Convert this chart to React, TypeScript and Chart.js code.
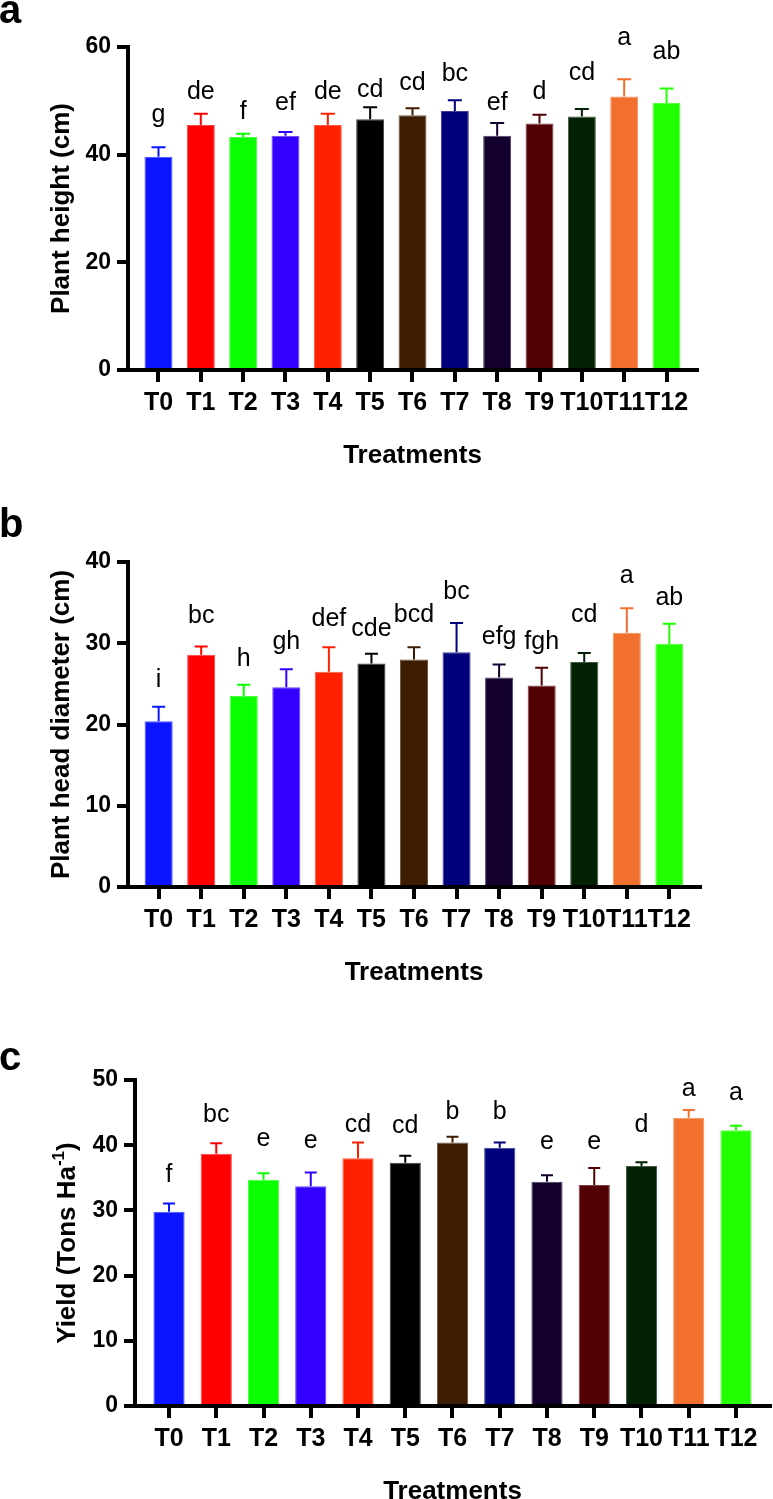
import React, { useEffect, useRef } from 'react';
import { Chart, registerables } from 'chart.js';

Chart.register(...registerables);

const FONT = "'Liberation Sans', Arial, Helvetica, sans-serif";

const treatments = ['T0', 'T1', 'T2', 'T3', 'T4', 'T5', 'T6', 'T7', 'T8', 'T9', 'T10', 'T11', 'T12'];
const barColors = ['#0a14ff', '#ff0000', '#0aff00', '#3300ff', '#ff2000', '#000000', '#3d1c02', '#00007a', '#13002e', '#520004', '#022002', '#f2702e', '#22ff00'];

// Panel a: plant height (cm)
const heightMeans = [39.6, 45.5, 43.3, 43.5, 45.5, 46.6, 47.3, 48.1, 43.5, 45.8, 47.1, 50.8, 49.6];
const heightErrors = [1.8, 2.1, 0.6, 0.7, 2.1, 2.2, 1.3, 2.0, 2.4, 1.6, 1.4, 3.2, 2.7];
const heightLetters = ['g', 'de', 'f', 'ef', 'de', 'cd', 'cd', 'bc', 'ef', 'd', 'cd', 'a', 'ab'];
const heightLetterLevels = [46.1, 50.4, 46.7, 48.3, 50.4, 50.8, 52.1, 53.6, 48.3, 50.4, 53.9, 60.4, 57.7];

// Panel b: plant head diameter (cm)
const diameterMeans = [20.4, 28.6, 23.5, 24.6, 26.5, 27.5, 28.0, 28.9, 25.8, 24.8, 27.7, 31.3, 29.9];
const diameterErrors = [1.8, 1.0, 1.4, 2.2, 3.0, 1.2, 1.5, 3.6, 1.6, 2.2, 1.1, 3.0, 2.5];
const diameterLetters = ['i', 'bc', 'h', 'gh', 'def', 'cde', 'bcd', 'bc', 'efg', 'fgh', 'cd', 'a', 'ab'];
const diameterLetterLevels = [24.6, 32.5, 27.2, 29.3, 32.1, 30.9, 32.6, 35.4, 29.9, 29.3, 32.6, 37.4, 34.7];

// Panel c: yield (Tons Ha-1)
const yieldMeans = [29.8, 38.7, 34.7, 33.7, 38.0, 37.3, 40.4, 39.6, 34.4, 33.9, 36.8, 44.2, 42.3];
const yieldErrors = [1.25, 1.6, 1.0, 2.1, 2.4, 1.1, 0.9, 0.8, 1.0, 2.6, 0.6, 1.2, 0.7];
const yieldLetters = ['f', 'bc', 'e', 'e', 'cd', 'cd', 'b', 'b', 'e', 'e', 'd', 'a', 'a'];
const yieldLetterLevels = [34.4, 43.6, 39.9, 39.5, 42.1, 41.8, 44.0, 44.0, 39.4, 39.4, 42.0, 47.6, 46.9];

function lighten(hex: string, amt: number) {
  const n = parseInt(hex.slice(1), 16);
  const r = (n >> 16) & 255, g = (n >> 8) & 255, b = n & 255;
  const f = (c: number) => Math.round(c + (255 - c) * amt);
  return `rgb(${f(r)},${f(g)},${f(b)})`;
}

type Geom = { offsetTop: number; width: number; height: number; left: number; right: number; top: number; bottom: number; titleX: number; labelY: number; capWidth: number };
type PanelCfg = {
  means: number[]; errors: number[]; letters: string[]; letterLevels: number[];
  yMax: number; yStep: number; yTitle: string; yTitleSup?: string; yTitleEnd?: string;
  panelLabel: string; geom: Geom;
};

const panels: PanelCfg[] = [
  {
    means: heightMeans, errors: heightErrors, letters: heightLetters, letterLevels: heightLetterLevels,
    yMax: 60, yStep: 20, yTitle: 'Plant height (cm)', panelLabel: 'a',
    geom: { offsetTop: 0, width: 773, height: 485, left: 128, right: 697, top: 47, bottom: 370, titleX: 69, labelY: 23, capWidth: 14 },
  },
  {
    means: diameterMeans, errors: diameterErrors, letters: diameterLetters, letterLevels: diameterLetterLevels,
    yMax: 40, yStep: 10, yTitle: 'Plant head diameter (cm)', panelLabel: 'b',
    geom: { offsetTop: 490, width: 773, height: 490, left: 128, right: 700, top: 72, bottom: 397, titleX: 69, labelY: 47, capWidth: 13 },
  },
  {
    means: yieldMeans, errors: yieldErrors, letters: yieldLetters, letterLevels: yieldLetterLevels,
    yMax: 50, yStep: 10, yTitle: 'Yield (Tons Ha', yTitleSup: '-1', yTitleEnd: ')', panelLabel: 'c',
    geom: { offsetTop: 980, width: 773, height: 519, left: 135, right: 770, top: 100, bottom: 426, titleX: 75, labelY: 90, capWidth: 12 },
  },
];

function Panel({ cfg }: { cfg: PanelCfg }) {
  const ref = useRef<HTMLCanvasElement>(null);
  const g = cfg.geom;

  useEffect(() => {
    const canvas = ref.current!;
    const overlay = {
      id: 'overlay',
      afterDatasetsDraw(chart: any) {
        const ctx = chart.ctx as CanvasRenderingContext2D;
        const xs = chart.scales.x;
        const ys = chart.scales.y;
        ctx.save();
        cfg.means.forEach((m, i) => {
          const x = xs.getPixelForValue(i);
          const yBar = ys.getPixelForValue(m);
          const yTop = ys.getPixelForValue(m + cfg.errors[i]);
          ctx.strokeStyle = barColors[i];
          ctx.lineWidth = 2;
          ctx.beginPath();
          ctx.moveTo(x, yBar);
          ctx.lineTo(x, yTop);
          ctx.moveTo(x - g.capWidth / 2, yTop);
          ctx.lineTo(x + g.capWidth / 2, yTop);
          ctx.stroke();
        });
        ctx.restore();
      },
      afterDraw(chart: any) {
        const ctx = chart.ctx as CanvasRenderingContext2D;
        const xs = chart.scales.x;
        const ys = chart.scales.y;
        const area = chart.chartArea;
        ctx.save();
        // significance letters
        ctx.fillStyle = '#000';
        ctx.textAlign = 'center';
        ctx.textBaseline = 'alphabetic';
        ctx.font = `25px ${FONT}`;
        cfg.letters.forEach((t, i) => {
          ctx.fillText(t, xs.getPixelForValue(i), ys.getPixelForValue(cfg.letterLevels[i]));
        });
        // x title
        ctx.font = `bold 26px ${FONT}`;
        ctx.fillText('Treatments', (area.left + area.right) / 2, area.bottom + 92.5);
        // y title (rotated)
        ctx.translate(g.titleX, (area.top + area.bottom) / 2);
        ctx.rotate(-Math.PI / 2);
        ctx.textAlign = 'left';
        const mainFont = `bold 26px ${FONT}`;
        const supFont = `bold 17px ${FONT}`;
        ctx.font = mainFont;
        const w1 = ctx.measureText(cfg.yTitle).width;
        let w2 = 0, w3 = 0;
        if (cfg.yTitleSup) {
          ctx.font = supFont;
          w2 = ctx.measureText(cfg.yTitleSup).width;
          ctx.font = mainFont;
          w3 = ctx.measureText(cfg.yTitleEnd || '').width;
        }
        let x0 = -(w1 + w2 + w3) / 2;
        ctx.font = mainFont;
        ctx.fillText(cfg.yTitle, x0, 0);
        if (cfg.yTitleSup) {
          x0 += w1;
          ctx.font = supFont;
          ctx.fillText(cfg.yTitleSup, x0, -11);
          x0 += w2;
          ctx.font = mainFont;
          ctx.fillText(cfg.yTitleEnd || '', x0, 0);
        }
        ctx.restore();
        // panel label
        ctx.save();
        ctx.fillStyle = '#000';
        ctx.textAlign = 'left';
        ctx.textBaseline = 'alphabetic';
        ctx.font = `bold 40px ${FONT}`;
        ctx.fillText(cfg.panelLabel, -1, g.labelY);
        ctx.restore();
      },
    };

    const chart = new Chart(canvas, {
      type: 'bar',
      data: {
        datasets: [
          {
            data: cfg.means.map((v, i) => ({ x: i, y: v })),
            backgroundColor: barColors,
            borderColor: barColors.map((c) => lighten(c, 0.25)),
            borderWidth: 1,
            barPercentage: 0.66,
            categoryPercentage: 1,
          },
        ],
      },
      options: {
        responsive: false,
        maintainAspectRatio: false,
        animation: false,
        layout: { padding: { left: 0, top: g.top, right: g.width - g.right, bottom: 0 } },
        plugins: { legend: { display: false }, tooltip: { enabled: false }, title: { display: false } },
        scales: {
          x: {
            type: 'linear',
            min: -0.72,
            max: 12.72,
            offset: false,
            afterFit: (s: any) => { s.height = g.height - g.bottom; },
            afterBuildTicks: (s: any) => { s.ticks = treatments.map((_, i) => ({ value: i })); },
            ticks: {
              autoSkip: false,
              maxRotation: 0,
              minRotation: 0,
              padding: 6,
              color: '#000',
              font: { family: FONT, size: 25, weight: 'bold' },
              callback: (v: any) => treatments[v] ?? '',
            },
            grid: { display: true, offset: false, drawOnChartArea: false, drawTicks: true, tickLength: 12, tickWidth: 4, tickColor: '#000', lineWidth: 4, color: '#000' },
            border: { display: true, width: 4, color: '#000' },
          },
          y: {
            min: 0,
            max: cfg.yMax,
            afterFit: (s: any) => { s.width = g.left; },
            ticks: {
              stepSize: cfg.yStep,
              padding: 6,
              color: '#000',
              font: { family: FONT, size: 23, weight: 'bold' },
            },
            grid: { display: true, offset: false, drawOnChartArea: false, drawTicks: true, tickLength: 11, tickWidth: 4, tickColor: '#000', lineWidth: 4, color: '#000' },
            border: { display: true, width: 4, color: '#000' },
          },
        },
      } as any,
      plugins: [overlay],
    });
    return () => chart.destroy();
  }, []);

  return (
    <canvas
      ref={ref}
      width={g.width}
      height={g.height}
      style={{ position: 'absolute', left: 0, top: g.offsetTop, width: g.width, height: g.height, display: 'block' }}
    />
  );
}

export default function App() {
  return (
    <div style={{ position: 'absolute', left: 0, top: 0, width: 773, height: 1499, background: '#fff' }}>
      {panels.map((p, i) => (
        <Panel key={i} cfg={p} />
      ))}
    </div>
  );
}
